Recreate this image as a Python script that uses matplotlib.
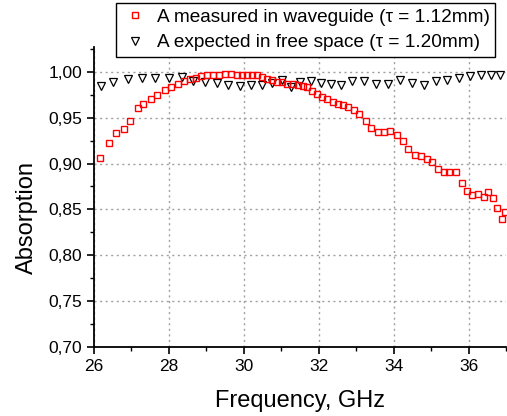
import matplotlib
matplotlib.use('Agg')
import matplotlib.pyplot as plt
from matplotlib.ticker import MultipleLocator, FuncFormatter

plt.rcParams['font.family'] = ['Liberation Sans', 'DejaVu Sans']

# measured in waveguide
f_meas = [26.17, 26.40, 26.58, 26.79, 26.96, 27.17, 27.32, 27.51, 27.68, 27.89,
          28.06, 28.24, 28.40, 28.55, 28.71, 28.87, 29.03, 29.19, 29.35, 29.51,
          29.65, 29.81, 29.95, 30.09, 30.23, 30.35, 30.49, 30.62, 30.75, 30.88,
          31.02, 31.15, 31.30, 31.45, 31.58, 31.70, 31.83, 31.96, 32.10, 32.23,
          32.37, 32.51, 32.64, 32.77, 32.93, 33.08, 33.25, 33.40, 33.58, 33.73,
          33.90, 34.08, 34.25, 34.39, 34.57, 34.73, 34.90, 35.03, 35.19, 35.35,
          35.49, 35.66, 35.82, 35.95, 36.10, 36.25, 36.40, 36.53, 36.65, 36.77,
          36.89, 36.97]
a_meas = [0.906, 0.922, 0.933, 0.938, 0.946, 0.961, 0.965, 0.970, 0.975, 0.980,
          0.983, 0.987, 0.990, 0.992, 0.993, 0.995, 0.996, 0.997, 0.997, 0.998,
          0.998, 0.997, 0.997, 0.997, 0.996, 0.996, 0.994, 0.992, 0.991, 0.989,
          0.989, 0.987, 0.987, 0.986, 0.985, 0.983, 0.979, 0.976, 0.973, 0.970,
          0.967, 0.965, 0.964, 0.962, 0.958, 0.954, 0.946, 0.939, 0.934, 0.934,
          0.935, 0.931, 0.924, 0.916, 0.909, 0.908, 0.905, 0.902, 0.894, 0.891,
          0.891, 0.891, 0.879, 0.870, 0.866, 0.867, 0.863, 0.869, 0.862, 0.852,
          0.840, 0.847]

# expected in free space
f_free = [26.18, 26.52, 26.92, 27.27, 27.63, 28.00, 28.34, 28.65, 28.96, 29.28,
          29.59, 29.90, 30.19, 30.48, 30.74, 31.01, 31.25, 31.50, 31.79, 32.06,
          32.32, 32.60, 32.88, 33.20, 33.52, 33.84, 34.17, 34.50, 34.82, 35.13,
          35.43, 35.75, 36.03, 36.33, 36.59, 36.85]
a_free = [0.984, 0.989, 0.992, 0.993, 0.993, 0.993, 0.994, 0.990, 0.989, 0.988,
          0.986, 0.984, 0.986, 0.986, 0.988, 0.991, 0.983, 0.989, 0.990, 0.988,
          0.987, 0.986, 0.990, 0.990, 0.987, 0.987, 0.991, 0.988, 0.986, 0.990,
          0.991, 0.993, 0.995, 0.996, 0.996, 0.996]

fig = plt.figure(figsize=(5.07, 4.16), dpi=100)
ax = fig.add_axes([94/507, 69/416, 412/507, 300/416])

l2, = ax.plot(f_free, a_free, 'v', ms=5.6, mfc='white', mec='black', mew=0.9,
              label='A expected in free space (\u03c4 = 1.20mm)')
l1, = ax.plot(f_meas, a_meas, 's', ms=4.6, mfc='none', mec='red', mew=1.0,
              label='A measured in waveguide (\u03c4 = 1.12mm)')

ax.set_xlim(26, 37)
ax.set_ylim(0.70, 1.027)
ax.xaxis.set_major_locator(MultipleLocator(2))
ax.xaxis.set_minor_locator(MultipleLocator(1))
ax.yaxis.set_major_locator(MultipleLocator(0.05))
ax.yaxis.set_minor_locator(MultipleLocator(0.025))
ax.yaxis.set_major_formatter(FuncFormatter(lambda v, p: ('%.2f' % v).replace('.', ',')))

ax.grid(True, which='major', linestyle=(0, (1.5, 2.5)), color='#a0a0a0', linewidth=1.0)
ax.set_axisbelow(True)
for s in ['top', 'right']:
    ax.spines[s].set_visible(False)
for s in ['left', 'bottom']:
    ax.spines[s].set_linewidth(1.3)
ax.tick_params(which='major', length=5, width=1.2, labelsize=12.5, direction='out')
ax.tick_params(which='minor', length=3, width=1.0, direction='out')

ax.set_xlabel('Frequency, GHz', fontsize=17, labelpad=12)
ax.set_ylabel('Absorption', fontsize=17)
ax.yaxis.set_label_coords(-0.135, 0.43)

leg = fig.legend(handles=[l1, l2], loc='upper left', bbox_to_anchor=(116/507, 1 - 3/416),
                 fontsize=13.7, frameon=True, fancybox=False, edgecolor='black',
                 framealpha=1, borderpad=0.3, labelspacing=0.42, handlelength=1.4,
                 handletextpad=0.43, borderaxespad=0)
leg.get_frame().set_linewidth(1.0)

fig.savefig('out.png', dpi=100)
